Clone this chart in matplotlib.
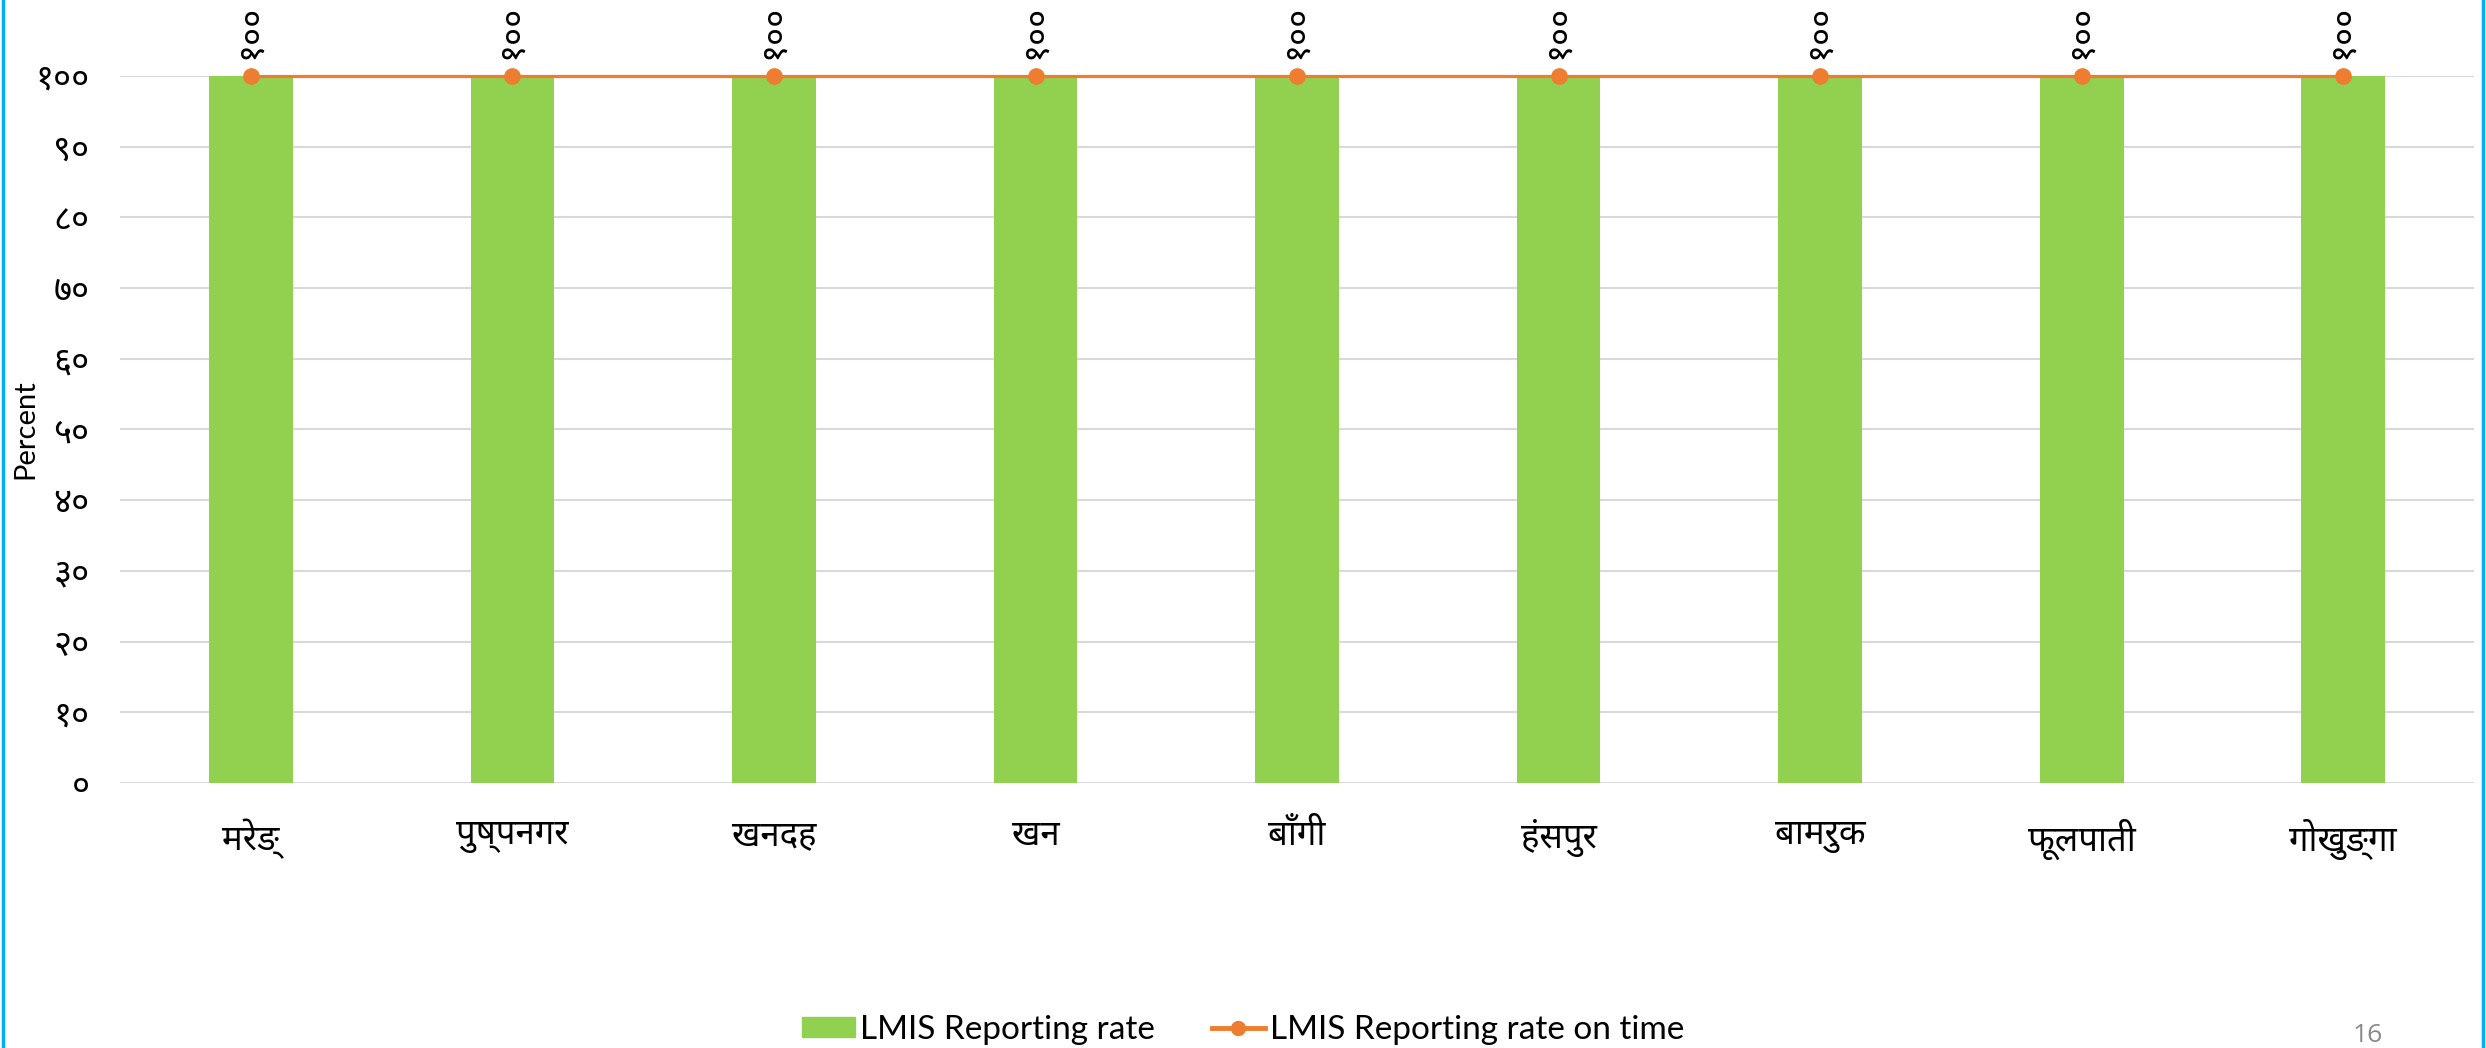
import matplotlib
matplotlib.use('Agg')
import matplotlib.pyplot as plt
from matplotlib.lines import Line2D

# palikas and reporting rates (%)
palikas = ['मरेङ्', 'पुष्पनगर', 'खनदह', 'खन', 'बाँगी', 'हंसपुर', 'बामरुक', 'फूलपाती', 'गोखुङ्गा']
reporting_rate = [100, 100, 100, 100, 100, 100, 100, 100, 100]
reporting_on_time = [100, 100, 100, 100, 100, 100, 100, 100, 100]
yticks = [0, 10, 20, 30, 40, 50, 60, 70, 80, 90, 100]

dev_digits = str.maketrans('0123456789', '०१२३४५६७८९')
def dev(n):
    return str(n).translate(dev_digits)

DEV = ['Noto Sans Devanagari', 'DejaVu Sans']

fig = plt.figure(figsize=(24.86, 10.48), dpi=100)
ax = fig.add_axes([0.0483, 0.2529, 0.9469, 0.6746])

x = list(range(len(palikas)))
ax.bar(x, reporting_rate, width=0.32, color='#92D050', zorder=2, label='LMIS Reporting rate')
ax.plot(x, reporting_on_time, color='#ED7D31', lw=2.3, marker='o', markersize=11,
        zorder=3, clip_on=False, label='LMIS Reporting rate on time')

for xi, v in zip(x, reporting_on_time):
    ax.annotate(dev(v), (xi, v), xytext=(0, 12), textcoords='offset points',
                rotation=90, ha='center', va='bottom', fontsize=25, family=DEV,
                annotation_clip=False)

ax.set_xlim(-0.5, len(palikas) - 0.5)
ax.set_ylim(0, 100)
ax.set_yticks(yticks)
ax.set_yticklabels([dev(t) for t in yticks], family=DEV, fontsize=25)
ax.set_xticks(x)
ax.set_xticklabels(palikas, family=DEV, fontsize=25)
ax.tick_params(length=0)
ax.tick_params(axis='y', pad=22)
ax.tick_params(axis='x', pad=26)
ax.grid(axis='y', color='#D9D9D9', lw=1.5, zorder=0)
for s in ax.spines.values():
    s.set_visible(False)

ax.set_ylabel('Percent', family='Lato', fontsize=21)
ax.yaxis.set_label_coords(-0.0348, 0.5)

handles = [plt.Rectangle((0, 0), 1, 1, color='#92D050'),
           Line2D([], [], color='#ED7D31', lw=3.5, marker='o', markersize=10)]
fig.legend(handles, ['LMIS Reporting rate', 'LMIS Reporting rate on time'],
           loc='center', bbox_to_anchor=(0.5, 0.017), ncol=2, frameon=False,
           prop={'family': 'Lato', 'size': 24}, handlelength=1.6, handleheight=0.55,
           handletextpad=0.15, columnspacing=1.7)

fig.text(0.9525, 0.0, '16', color='#898989', fontsize=19, family='Open Sans',
         ha='center', va='bottom')

# slide borders
fig.add_artist(Line2D([0.0012, 0.0012], [0, 1], color='#00B0F0', lw=2.5))
fig.add_artist(Line2D([0.9988, 0.9988], [0, 1], color='#00B0F0', lw=2.5))

fig.savefig('out.png')
